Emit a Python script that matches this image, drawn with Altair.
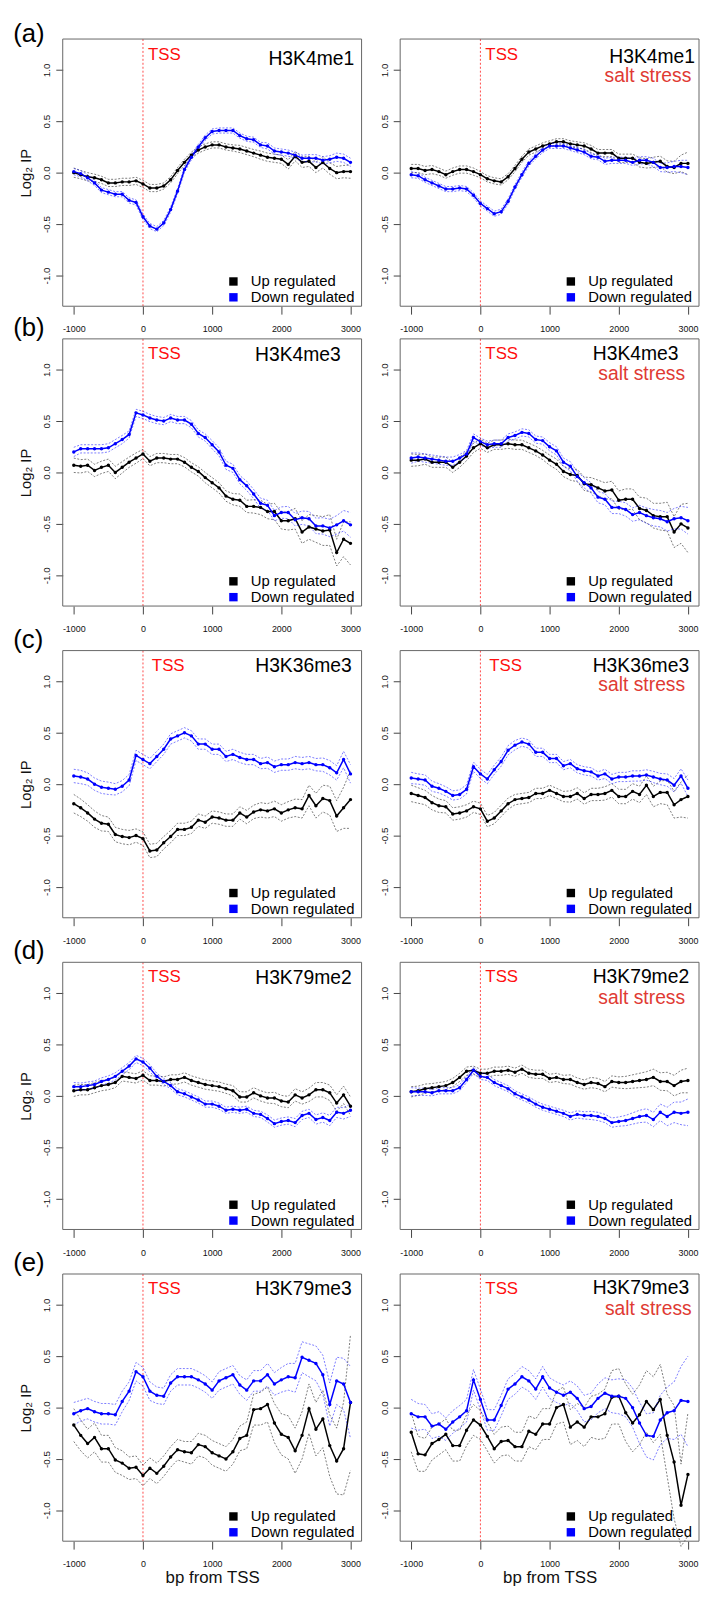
import altair as alt
import pandas as pd

FONT = "Liberation Sans"
BP = list(range(-1000, 3001, 100))
GROUPS = ["Up regulated", "Down regulated"]
COLORS = ["#000000", "#0000ff"]
MARKS = ["H3K4me1", "H3K4me3", "H3K36me3", "H3K79me2", "H3K79me3"]
ROW_TAGS = ["(a)", "(b)", "(c)", "(d)", "(e)"]
CONDITION = "salt stress"
X_TICKS = [-1000, 0, 1000, 2000, 3000]
Y_TICKS = [-1.0, -0.5, 0.0, 0.5, 1.0]

# ---------------- (a) H3K4me1 ----------------
A_L_UP = [0.00, -0.02, -0.04, -0.05, -0.07, -0.10, -0.10, -0.09, -0.09, -0.08,
          -0.11, -0.15, -0.15, -0.13, -0.07, 0.02, 0.10, 0.17, 0.22, 0.25,
          0.27, 0.27, 0.25, 0.24, 0.23, 0.21, 0.19, 0.17, 0.15, 0.14,
          0.13, 0.08, 0.16, 0.10, 0.11, 0.05, 0.10, 0.04, 0.00, 0.01, 0.01]
A_L_UP_SE = [0.045, 0.04, 0.04, 0.035, 0.035, 0.035, 0.035, 0.035, 0.035, 0.035,
             0.035, 0.035, 0.035, 0.03, 0.03, 0.03, 0.03, 0.03, 0.03, 0.03,
             0.03, 0.03, 0.03, 0.03, 0.035, 0.035, 0.035, 0.04, 0.04, 0.04,
             0.04, 0.045, 0.045, 0.05, 0.05, 0.05, 0.055, 0.055, 0.06, 0.06, 0.065]
A_L_DN = [0.01, -0.01, -0.05, -0.10, -0.17, -0.19, -0.21, -0.21, -0.27, -0.29,
          -0.43, -0.52, -0.55, -0.49, -0.36, -0.18, 0.03, 0.15, 0.25, 0.34,
          0.40, 0.41, 0.41, 0.41, 0.36, 0.33, 0.32, 0.27, 0.26, 0.21,
          0.20, 0.19, 0.17, 0.14, 0.14, 0.14, 0.12, 0.13, 0.15, 0.14, 0.10]
A_L_DN_SE = [0.03, 0.03, 0.03, 0.025, 0.025, 0.025, 0.025, 0.025, 0.025, 0.025,
             0.025, 0.025, 0.025, 0.025, 0.025, 0.025, 0.025, 0.025, 0.025, 0.025,
             0.025, 0.025, 0.025, 0.025, 0.025, 0.025, 0.025, 0.025, 0.03, 0.03,
             0.03, 0.03, 0.03, 0.03, 0.035, 0.035, 0.035, 0.035, 0.04, 0.04, 0.04]
A_R_UP = [0.04, 0.04, 0.02, 0.03, 0.01, -0.02, 0.01, 0.03, 0.03, 0.01,
          -0.02, -0.06, -0.08, -0.09, -0.04, 0.04, 0.13, 0.20, 0.23, 0.26,
          0.28, 0.30, 0.30, 0.28, 0.27, 0.26, 0.23, 0.19, 0.19, 0.19,
          0.14, 0.14, 0.14, 0.10, 0.09, 0.10, 0.11, 0.06, 0.05, 0.09, 0.09]
A_R_UP_SE = [0.04, 0.04, 0.04, 0.04, 0.035, 0.035, 0.035, 0.035, 0.035, 0.035,
             0.03, 0.03, 0.03, 0.03, 0.03, 0.03, 0.03, 0.03, 0.03, 0.03,
             0.03, 0.03, 0.03, 0.03, 0.03, 0.03, 0.035, 0.035, 0.035, 0.035,
             0.04, 0.04, 0.04, 0.045, 0.045, 0.05, 0.05, 0.055, 0.06, 0.08, 0.11]
A_R_DN = [-0.02, -0.03, -0.07, -0.10, -0.13, -0.16, -0.16, -0.15, -0.16, -0.22,
          -0.30, -0.35, -0.40, -0.38, -0.28, -0.14, -0.02, 0.09, 0.16, 0.22,
          0.26, 0.26, 0.26, 0.24, 0.22, 0.20, 0.16, 0.15, 0.11, 0.12,
          0.12, 0.12, 0.10, 0.12, 0.12, 0.10, 0.05, 0.05, 0.06, 0.06, 0.05]
A_R_DN_SE = [0.03, 0.025, 0.025, 0.025, 0.025, 0.025, 0.025, 0.025, 0.025, 0.025,
             0.025, 0.025, 0.025, 0.025, 0.025, 0.025, 0.025, 0.025, 0.025, 0.025,
             0.025, 0.025, 0.025, 0.025, 0.025, 0.025, 0.025, 0.025, 0.03, 0.03,
             0.03, 0.03, 0.03, 0.035, 0.035, 0.04, 0.04, 0.045, 0.05, 0.06, 0.07]

# ---------------- (b) H3K4me3 ----------------
B_L_UP = [0.07, 0.06, 0.07, 0.02, 0.05, 0.07, 0.00, 0.05, 0.10, 0.14,
          0.18, 0.11, 0.14, 0.14, 0.13, 0.13, 0.10, 0.05, 0.01, -0.05,
          -0.10, -0.15, -0.23, -0.26, -0.27, -0.33, -0.33, -0.34, -0.38, -0.38,
          -0.47, -0.47, -0.45, -0.58, -0.53, -0.55, -0.57, -0.56, -0.78, -0.65, -0.69]
B_L_UP_SE = [0.07, 0.065, 0.06, 0.06, 0.06, 0.06, 0.06, 0.055, 0.05, 0.05,
             0.045, 0.045, 0.045, 0.045, 0.045, 0.045, 0.045, 0.045, 0.045, 0.05,
             0.05, 0.05, 0.05, 0.055, 0.06, 0.06, 0.065, 0.07, 0.07, 0.08,
             0.08, 0.09, 0.10, 0.11, 0.12, 0.13, 0.14, 0.15, 0.13, 0.17, 0.21]
B_L_DN = [0.20, 0.23, 0.23, 0.23, 0.23, 0.24, 0.28, 0.32, 0.37, 0.58,
          0.56, 0.53, 0.51, 0.50, 0.53, 0.51, 0.51, 0.47, 0.38, 0.34,
          0.27, 0.20, 0.07, 0.04, -0.07, -0.13, -0.21, -0.30, -0.32, -0.42,
          -0.39, -0.39, -0.46, -0.44, -0.45, -0.52, -0.52, -0.54, -0.51, -0.47, -0.51]
B_L_DN_SE = [0.045, 0.04, 0.04, 0.04, 0.04, 0.04, 0.04, 0.04, 0.035, 0.035,
             0.035, 0.035, 0.035, 0.035, 0.035, 0.035, 0.035, 0.035, 0.035, 0.035,
             0.04, 0.04, 0.04, 0.04, 0.04, 0.045, 0.045, 0.05, 0.05, 0.05,
             0.055, 0.06, 0.06, 0.065, 0.07, 0.075, 0.08, 0.085, 0.09, 0.10, 0.12]
B_R_UP = [0.12, 0.12, 0.13, 0.10, 0.10, 0.10, 0.05, 0.10, 0.16, 0.24,
          0.28, 0.24, 0.27, 0.27, 0.28, 0.27, 0.27, 0.24, 0.21, 0.17,
          0.12, 0.08, 0.01, -0.02, -0.03, -0.11, -0.12, -0.15, -0.18, -0.17,
          -0.27, -0.26, -0.26, -0.35, -0.37, -0.42, -0.43, -0.43, -0.58, -0.50, -0.54]
B_R_UP_SE = [0.06, 0.055, 0.05, 0.05, 0.05, 0.05, 0.05, 0.05, 0.045, 0.045,
             0.045, 0.045, 0.045, 0.045, 0.045, 0.045, 0.045, 0.045, 0.045, 0.045,
             0.05, 0.05, 0.05, 0.055, 0.06, 0.065, 0.07, 0.075, 0.08, 0.085,
             0.09, 0.10, 0.10, 0.11, 0.12, 0.12, 0.13, 0.14, 0.15, 0.19, 0.24]
B_R_DN = [0.14, 0.15, 0.14, 0.13, 0.12, 0.11, 0.11, 0.14, 0.18, 0.34,
          0.30, 0.27, 0.28, 0.28, 0.34, 0.36, 0.39, 0.38, 0.32, 0.31,
          0.25, 0.21, 0.10, 0.06, -0.04, -0.10, -0.15, -0.24, -0.26, -0.34,
          -0.34, -0.36, -0.41, -0.39, -0.42, -0.44, -0.45, -0.48, -0.45, -0.44, -0.47]
B_R_DN_SE = [0.05, 0.04, 0.04, 0.04, 0.04, 0.04, 0.04, 0.035, 0.035, 0.035,
             0.035, 0.035, 0.035, 0.035, 0.035, 0.035, 0.035, 0.035, 0.035, 0.035,
             0.04, 0.04, 0.04, 0.045, 0.045, 0.05, 0.05, 0.055, 0.055, 0.06,
             0.06, 0.065, 0.065, 0.07, 0.075, 0.08, 0.08, 0.09, 0.10, 0.11, 0.13]

# ---------------- (c) H3K36me3 ----------------
C_L_UP = [-0.19, -0.23, -0.28, -0.34, -0.38, -0.39, -0.49, -0.51, -0.52, -0.50,
          -0.53, -0.65, -0.64, -0.57, -0.51, -0.44, -0.44, -0.42, -0.35, -0.37,
          -0.32, -0.33, -0.35, -0.35, -0.28, -0.32, -0.27, -0.25, -0.26, -0.24,
          -0.28, -0.25, -0.23, -0.24, -0.11, -0.21, -0.14, -0.16, -0.31, -0.23, -0.15]
C_L_UP_SE = [0.09, 0.085, 0.08, 0.08, 0.075, 0.07, 0.07, 0.07, 0.07, 0.065,
             0.065, 0.065, 0.065, 0.06, 0.06, 0.06, 0.06, 0.06, 0.06, 0.06,
             0.06, 0.06, 0.06, 0.06, 0.06, 0.065, 0.065, 0.07, 0.07, 0.075,
             0.08, 0.08, 0.085, 0.09, 0.10, 0.12, 0.13, 0.14, 0.15, 0.20, 0.28]
C_L_DN = [0.08, 0.07, 0.05, 0.00, -0.03, -0.04, -0.05, -0.02, 0.04, 0.28,
          0.24, 0.20, 0.27, 0.34, 0.44, 0.47, 0.50, 0.47, 0.39, 0.39,
          0.34, 0.34, 0.27, 0.29, 0.26, 0.24, 0.24, 0.20, 0.21, 0.17,
          0.19, 0.19, 0.21, 0.20, 0.21, 0.19, 0.19, 0.16, 0.11, 0.24, 0.10]
C_L_DN_SE = [0.065, 0.065, 0.06, 0.06, 0.06, 0.06, 0.055, 0.055, 0.055, 0.05,
             0.05, 0.05, 0.05, 0.05, 0.05, 0.05, 0.05, 0.05, 0.05, 0.05,
             0.05, 0.05, 0.05, 0.05, 0.05, 0.05, 0.05, 0.05, 0.055, 0.055,
             0.055, 0.055, 0.06, 0.06, 0.06, 0.06, 0.065, 0.07, 0.07, 0.08, 0.09]
C_R_UP = [-0.09, -0.11, -0.13, -0.18, -0.21, -0.22, -0.29, -0.28, -0.26, -0.22,
          -0.24, -0.36, -0.33, -0.26, -0.19, -0.15, -0.14, -0.13, -0.09, -0.09,
          -0.06, -0.09, -0.12, -0.12, -0.09, -0.14, -0.10, -0.10, -0.09, -0.06,
          -0.12, -0.12, -0.07, -0.10, -0.01, -0.12, -0.08, -0.08, -0.20, -0.15, -0.12]
C_R_UP_SE = [0.08, 0.075, 0.07, 0.07, 0.065, 0.06, 0.06, 0.06, 0.06, 0.055,
             0.055, 0.055, 0.055, 0.055, 0.055, 0.05, 0.05, 0.05, 0.05, 0.05,
             0.05, 0.05, 0.05, 0.055, 0.055, 0.055, 0.06, 0.06, 0.065, 0.065,
             0.07, 0.07, 0.075, 0.08, 0.09, 0.10, 0.11, 0.12, 0.13, 0.17, 0.21]
C_R_DN = [0.06, 0.05, 0.04, -0.02, -0.04, -0.07, -0.11, -0.10, -0.05, 0.17,
          0.10, 0.05, 0.14, 0.22, 0.33, 0.38, 0.41, 0.39, 0.31, 0.31,
          0.25, 0.25, 0.18, 0.20, 0.15, 0.13, 0.12, 0.08, 0.10, 0.05,
          0.07, 0.07, 0.08, 0.08, 0.09, 0.07, 0.05, 0.04, -0.01, 0.08, -0.04]
C_R_DN_SE = [0.055, 0.05, 0.05, 0.05, 0.045, 0.045, 0.045, 0.045, 0.045, 0.045,
             0.045, 0.045, 0.045, 0.045, 0.045, 0.045, 0.04, 0.04, 0.04, 0.04,
             0.04, 0.04, 0.04, 0.04, 0.04, 0.04, 0.04, 0.04, 0.045, 0.045,
             0.045, 0.045, 0.05, 0.05, 0.05, 0.055, 0.055, 0.06, 0.065, 0.07, 0.08]

# ---------------- (d) H3K79me2 ----------------
D_L_UP = [0.05, 0.06, 0.06, 0.08, 0.10, 0.11, 0.13, 0.19, 0.18, 0.17,
          0.20, 0.15, 0.15, 0.14, 0.16, 0.16, 0.18, 0.15, 0.13, 0.11,
          0.10, 0.09, 0.07, 0.05, -0.01, -0.01, 0.03, 0.00, -0.02, -0.02,
          -0.05, -0.06, 0.01, -0.02, 0.01, 0.06, 0.06, 0.03, -0.07, 0.01, -0.10]
D_L_UP_SE = [0.055, 0.05, 0.05, 0.05, 0.05, 0.05, 0.05, 0.045, 0.045, 0.045,
             0.045, 0.045, 0.045, 0.045, 0.045, 0.045, 0.045, 0.045, 0.045, 0.045,
             0.045, 0.045, 0.045, 0.05, 0.05, 0.05, 0.05, 0.05, 0.05, 0.055,
             0.055, 0.055, 0.06, 0.06, 0.065, 0.07, 0.07, 0.075, 0.08, 0.085, 0.09]
D_L_DN = [0.09, 0.09, 0.10, 0.11, 0.14, 0.16, 0.19, 0.24, 0.29, 0.36,
          0.33, 0.27, 0.19, 0.14, 0.10, 0.04, 0.02, -0.01, -0.04, -0.08,
          -0.08, -0.10, -0.14, -0.13, -0.14, -0.13, -0.17, -0.18, -0.22, -0.27,
          -0.25, -0.24, -0.26, -0.19, -0.17, -0.23, -0.21, -0.24, -0.16, -0.17, -0.14]
D_L_DN_SE = [0.04, 0.035, 0.035, 0.035, 0.035, 0.035, 0.035, 0.035, 0.035, 0.035,
             0.035, 0.035, 0.03, 0.03, 0.03, 0.03, 0.03, 0.03, 0.03, 0.03,
             0.03, 0.03, 0.03, 0.03, 0.03, 0.03, 0.03, 0.03, 0.035, 0.035,
             0.035, 0.035, 0.04, 0.04, 0.04, 0.045, 0.045, 0.05, 0.05, 0.055, 0.06]
D_R_UP = [0.04, 0.05, 0.07, 0.08, 0.09, 0.10, 0.13, 0.18, 0.24, 0.25,
          0.22, 0.22, 0.24, 0.24, 0.25, 0.23, 0.26, 0.22, 0.21, 0.21,
          0.17, 0.18, 0.16, 0.16, 0.13, 0.11, 0.13, 0.12, 0.09, 0.14,
          0.13, 0.13, 0.14, 0.15, 0.16, 0.18, 0.14, 0.14, 0.10, 0.14, 0.15]
D_R_UP_SE = [0.05, 0.045, 0.045, 0.04, 0.04, 0.04, 0.04, 0.04, 0.04, 0.04,
             0.04, 0.04, 0.04, 0.04, 0.04, 0.04, 0.04, 0.04, 0.04, 0.04,
             0.04, 0.04, 0.04, 0.045, 0.045, 0.045, 0.05, 0.05, 0.05, 0.055,
             0.055, 0.06, 0.065, 0.07, 0.075, 0.08, 0.085, 0.09, 0.10, 0.11, 0.12]
D_R_DN = [0.04, 0.04, 0.04, 0.03, 0.05, 0.05, 0.05, 0.08, 0.16, 0.25,
          0.19, 0.18, 0.13, 0.10, 0.07, 0.02, -0.01, -0.04, -0.08, -0.11,
          -0.13, -0.15, -0.17, -0.20, -0.18, -0.19, -0.19, -0.20, -0.22, -0.26,
          -0.25, -0.24, -0.22, -0.20, -0.19, -0.23, -0.16, -0.20, -0.16, -0.17, -0.16]
D_R_DN_SE = [0.04, 0.035, 0.035, 0.03, 0.03, 0.03, 0.03, 0.03, 0.03, 0.03,
             0.03, 0.03, 0.03, 0.03, 0.03, 0.03, 0.03, 0.03, 0.03, 0.03,
             0.03, 0.03, 0.03, 0.035, 0.035, 0.035, 0.04, 0.04, 0.04, 0.045,
             0.045, 0.05, 0.055, 0.06, 0.065, 0.07, 0.08, 0.09, 0.10, 0.11, 0.13]

# ---------------- (e) H3K79me3 ----------------
E_L_UP = [-0.17, -0.27, -0.35, -0.29, -0.40, -0.40, -0.51, -0.54, -0.59, -0.58,
          -0.66, -0.59, -0.64, -0.57, -0.48, -0.41, -0.43, -0.44, -0.36, -0.38,
          -0.44, -0.47, -0.50, -0.43, -0.30, -0.27, -0.02, -0.01, 0.03, -0.15,
          -0.26, -0.29, -0.42, -0.27, -0.01, -0.21, -0.11, -0.37, -0.52, -0.40, 0.05]
E_L_UP_SE = [0.16, 0.15, 0.14, 0.14, 0.13, 0.13, 0.12, 0.12, 0.11, 0.11,
             0.10, 0.10, 0.10, 0.10, 0.10, 0.10, 0.10, 0.11, 0.11, 0.11,
             0.12, 0.12, 0.12, 0.12, 0.12, 0.13, 0.15, 0.16, 0.17, 0.19,
             0.20, 0.21, 0.22, 0.23, 0.24, 0.26, 0.28, 0.30, 0.32, 0.45, 0.66]
E_L_DN = [-0.06, -0.03, -0.01, -0.04, -0.06, -0.06, -0.07, 0.06, 0.16, 0.35,
          0.30, 0.16, 0.12, 0.11, 0.24, 0.30, 0.30, 0.30, 0.27, 0.23,
          0.17, 0.26, 0.29, 0.32, 0.22, 0.17, 0.26, 0.26, 0.32, 0.23,
          0.27, 0.30, 0.29, 0.49, 0.46, 0.43, 0.32, 0.03, 0.26, 0.23, 0.05]
E_L_DN_SE = [0.11, 0.10, 0.10, 0.10, 0.10, 0.10, 0.10, 0.10, 0.09, 0.09,
             0.09, 0.09, 0.08, 0.08, 0.08, 0.08, 0.08, 0.08, 0.08, 0.08,
             0.08, 0.09, 0.09, 0.09, 0.09, 0.10, 0.10, 0.10, 0.11, 0.11,
             0.12, 0.13, 0.14, 0.15, 0.16, 0.17, 0.19, 0.21, 0.23, 0.25, 0.35]
E_R_UP = [-0.24, -0.45, -0.46, -0.35, -0.31, -0.26, -0.37, -0.37, -0.22, -0.12,
          -0.17, -0.28, -0.40, -0.33, -0.32, -0.38, -0.38, -0.23, -0.26, -0.16,
          -0.16, 0.00, 0.03, -0.19, -0.14, -0.19, -0.09, -0.09, -0.06, 0.10,
          0.11, -0.05, -0.15, -0.07, 0.06, -0.02, 0.08, -0.27, -0.53, -0.95, -0.65]
E_R_UP_SE = [0.19, 0.17, 0.16, 0.16, 0.15, 0.15, 0.15, 0.15, 0.15, 0.15,
             0.14, 0.14, 0.14, 0.14, 0.14, 0.14, 0.14, 0.15, 0.15, 0.15,
             0.15, 0.16, 0.17, 0.17, 0.18, 0.19, 0.20, 0.22, 0.24, 0.26,
             0.27, 0.28, 0.28, 0.29, 0.30, 0.32, 0.34, 0.40, 0.55, 0.40, 0.60]
E_R_DN = [-0.06, -0.09, -0.09, -0.18, -0.16, -0.21, -0.14, -0.09, -0.03, 0.27,
          0.08, -0.12, -0.12, 0.02, 0.18, 0.23, 0.30, 0.26, 0.18, 0.30,
          0.19, 0.15, 0.12, 0.15, 0.09, -0.01, 0.01, 0.09, 0.14, 0.11,
          0.11, 0.09, 0.00, -0.15, -0.27, -0.28, -0.12, -0.05, -0.03, 0.07, 0.06]
E_R_DN_SE = [0.14, 0.13, 0.12, 0.12, 0.12, 0.11, 0.11, 0.11, 0.11, 0.10,
             0.10, 0.10, 0.10, 0.10, 0.10, 0.10, 0.10, 0.10, 0.10, 0.10,
             0.10, 0.10, 0.10, 0.11, 0.12, 0.13, 0.13, 0.14, 0.15, 0.16,
             0.17, 0.18, 0.19, 0.20, 0.21, 0.23, 0.24, 0.25, 0.28, 0.33, 0.44]

SERIES = {
    (0, 0): (A_L_UP, A_L_UP_SE, A_L_DN, A_L_DN_SE),
    (0, 1): (A_R_UP, A_R_UP_SE, A_R_DN, A_R_DN_SE),
    (1, 0): (B_L_UP, B_L_UP_SE, B_L_DN, B_L_DN_SE),
    (1, 1): (B_R_UP, B_R_UP_SE, B_R_DN, B_R_DN_SE),
    (2, 0): (C_L_UP, C_L_UP_SE, C_L_DN, C_L_DN_SE),
    (2, 1): (C_R_UP, C_R_UP_SE, C_R_DN, C_R_DN_SE),
    (3, 0): (D_L_UP, D_L_UP_SE, D_L_DN, D_L_DN_SE),
    (3, 1): (D_R_UP, D_R_UP_SE, D_R_DN, D_R_DN_SE),
    (4, 0): (E_L_UP, E_L_UP_SE, E_L_DN, E_L_DN_SE),
    (4, 1): (E_R_UP, E_R_UP_SE, E_R_DN, E_R_DN_SE),
}

# ---------------- layout / style (pixels) ----------------
W, H = 302, 270                 # plot frame of every panel
VIEW_H = [258, 270, 270, 270, 270]   # grid cell height (row a sits closer to row b)
NAME_RIGHT_OFF = [[7.5, 4], [21, 20.7], [10, 10], [10, 10], [10, 10]]
NAME_BASE = [[26, 24], [22.7, 21.7], [22, 21.5], [22.3, 20.6], [21, 20.3]]
SALT_RIGHT_OFF = [7.7, 14, 14, 14, 7.4]
SALT_BASE = [43, 41.7, 41, 42.3, 41.3]
TSS_DX = [5, 5, 9, 5, 5]
TSS_BASE = [21, 20, 21, 20, 20.5]
TAG_Y = [-4.7, -11, -11, -11, -11]
FRAME = "#666666"

XSCALE = alt.Scale(domain=[-1160, 3160], nice=False, zero=False)
YSCALE = alt.Scale(domain=[-1.3, 1.3], nice=False, zero=False, range=[H, 0])
CSCALE = alt.Scale(domain=GROUPS, range=COLORS)


def one_row(**cols):
    return alt.Chart(pd.DataFrame({k: [v] for k, v in cols.items()}))


def text_layer(txt, x, y, **kw):
    return one_row(t=txt).mark_text(font=FONT, **kw).encode(x=x, y=y, text="t:N")


def panel(r, c):
    up, up_se, dn, dn_se = SERIES[(r, c)]
    recs = []
    for g, vals, se in ((GROUPS[0], up, up_se), (GROUPS[1], dn, dn_se)):
        for x, v, s in zip(BP, vals, se):
            recs.append({"bp": x, "val": v, "lo": round(v - s, 3),
                         "hi": round(v + s, 3), "grp": g})
    df = pd.DataFrame(recs)

    xaxis = alt.Axis(
        values=X_TICKS, title="bp from TSS" if r == 4 else None,
        offset=H - VIEW_H[r],
        labelExpr="datum.value < 0 ? '-' + format(-datum.value, 'd') : format(datum.value, 'd')",
        labelFontSize=9, labelFont=FONT, labelColor="#111111", labelPadding=11,
        labelFlush=False, tickSize=8, tickColor="#444444", domain=False, grid=False,
        titleFont=FONT, titleFontSize=17, titleFontWeight="normal", titleColor="#111111",
        titlePadding=1)
    yaxis = alt.Axis(
        values=Y_TICKS, title="Log₂ IP" if c == 0 else None,
        labelExpr="datum.value < 0 ? '-' + format(-datum.value, '.1f') : format(datum.value, '.1f')",
        labelAngle=-90, labelAlign="center", labelBaseline="alphabetic",
        labelFontSize=10, labelFont=FONT, labelColor="#111111", labelPadding=6,
        labelFlush=False, tickSize=7, tickColor="#444444", domain=False, grid=False,
        titleFont=FONT, titleFontSize=15, titleFontWeight="normal", titleColor="#111111",
        titlePadding=9)

    xenc = alt.X("bp:Q", scale=XSCALE, axis=xaxis)
    legend = alt.Legend(
        title=None, orient="none", legendX=165, legendY=237.5, symbolType="square",
        symbolSize=72, symbolStrokeWidth=0, labelFontSize=15, labelFont=FONT,
        labelColor="#000000", labelOffset=10, rowPadding=0, padding=0)
    base = alt.Chart(df)

    layers = [
        one_row(bp=0).mark_rule(color="#ff2a2a", strokeDash=[2, 2], strokeWidth=1,
                                opacity=0.85).encode(
            x=xenc, y=alt.value(0), y2=alt.value(H)),
    ]
    for g, col in zip(GROUPS, COLORS):
        sub = base.transform_filter(alt.datum.grp == g)
        for fld in ("hi", "lo"):
            layers.append(sub.mark_line(color=col, strokeWidth=0.8, strokeDash=[2, 1.6],
                                        opacity=0.65).encode(
                x=xenc, y=alt.Y(f"{fld}:Q", scale=YSCALE, axis=yaxis)))
        layers.append(sub.mark_line(color=col, strokeWidth=1.5).encode(
            x=xenc, y=alt.Y("val:Q", scale=YSCALE, axis=yaxis)))
    layers += [
        base.mark_point(filled=True, size=12, opacity=1, strokeWidth=0).encode(
            x=xenc, y=alt.Y("val:Q", scale=YSCALE, axis=yaxis),
            color=alt.Color("grp:N", scale=CSCALE, legend=legend)),
        one_row(x0=0).mark_rect(
            fillOpacity=0, stroke=FRAME, strokeWidth=1).encode(
            x=alt.value(0), x2=alt.value(W), y=alt.value(0), y2=alt.value(H)),
        one_row(bp=0, t="TSS").mark_text(
            font=FONT, fontSize=17, color="#ff1010", align="left", baseline="alphabetic",
            dx=TSS_DX[r]).encode(x=xenc, y=alt.value(TSS_BASE[r]), text="t:N"),
        text_layer(MARKS[r], alt.value(W - NAME_RIGHT_OFF[r][c]), alt.value(NAME_BASE[r][c]),
                   fontSize=19.5, color="#000000", align="right", baseline="alphabetic"),
    ]
    if c == 1:
        layers.append(text_layer(CONDITION, alt.value(W - SALT_RIGHT_OFF[r]),
                                 alt.value(SALT_BASE[r]), fontSize=19.5, color="#e03a33",
                                 align="right", baseline="alphabetic"))
    else:
        layers.append(text_layer(ROW_TAGS[r], alt.value(-50), alt.value(TAG_Y[r]),
                                 fontSize=26, color="#000000", align="left",
                                 baseline="middle"))
    return alt.layer(*layers).properties(width=W, height=VIEW_H[r])


panels = [panel(r, c) for r in range(5) for c in range(2)]

chart = alt.concat(
    *panels, columns=2, spacing={"row": 45, "column": 39}, bounds="flush", align="each"
).resolve_scale(color="independent").properties(
    padding={"left": 5.3, "top": 5, "right": 0, "bottom": 0}
).configure(font=FONT).configure_view(strokeWidth=0, stroke="transparent")

chart.save("out.html", embed_options={"renderer": "svg", "actions": False})
